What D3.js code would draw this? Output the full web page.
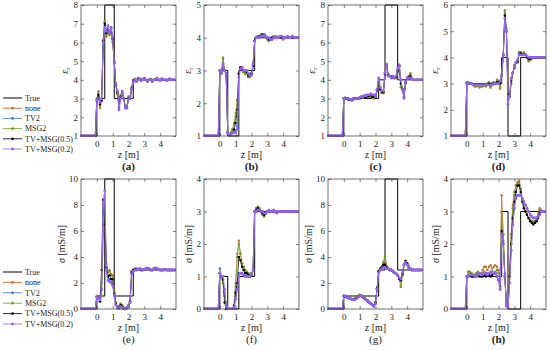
<html>
<head>
<script src="https://d3js.org/d3.v7.min.js"></script>
</head>
<body style="margin:0;background:#fff">
<script>

// depth grid (m)
const zGrid = [-1.0,-0.9,-0.8,-0.7,-0.6,-0.5,-0.4,-0.3,-0.2,-0.1,
  0.0,0.1,0.2,0.3,0.4,0.5,0.6,0.7,0.8,0.9,
  1.0,1.1,1.2,1.3,1.4,1.5,1.6,1.7,1.8,1.9,
  2.0,2.1,2.2,2.3,2.4,2.5,2.6,2.7,2.8,2.9,
  3.0,3.1,3.2,3.3,3.4,3.5,3.6,3.7,3.8,3.9,
  4.0,4.1,4.2,4.3,4.4,4.5,4.6,4.7,4.8,4.9];

const seriesNames = ["True", "none", "TV2", "MSG2", "TV+MSG(0.5)", "TV+MSG(0.2)"];
const lineColors = ["#000000", "#d9632a", "#4a7fe0", "#77ac30", "#111111", "#9b6cf0"];
const dotColors = ["none", "#b5762c", "#3f70d8", "#6b9c2a", "#000000", "#9461f2"];

const zTicks = [0, 1, 2, 3, 4];
const ticks8 = [1, 2, 3, 4, 5, 6, 7, 8];
const ticks5 = [1, 2, 3, 4, 5];
const ticks6 = [1, 2, 3, 4, 5, 6];
const ticks10 = [0, 2, 4, 6, 8, 10];
const ticks4 = [0, 1, 2, 3, 4];

// true profiles (step edges in z, layer values)
const edgesA = [-1, 0, 0.5, 1.1, 2.3, 5];
const trueA = [1, 3, 8, 3, 4];
const edgesB = [-1, 0, 0.5, 1.2, 2.2, 5];
const trueB = [1, 3, 1, 3, 4];
const edgesC = [-1, 0, 2.2, 2.6, 3.4, 5];
const trueC = [1, 3, 4, 8, 4];
const trueD = [1, 3, 4, 1, 4];
const trueE = [0, 1, 10, 1, 3];
const trueF = [0, 1, 0, 1, 3];
const trueG = [0, 1, 3, 10, 3];
const trueH = [0, 1, 3, 0, 3];

// (a) eps_r
const a_none = [1,1,1,1,1,1,1,1,1,1,
  2.9,3.4,2.5,3.0,5.5,7.1,6.3,6.6,6.4,6.7,
  6.0,5.0,3.8,3.2,2.6,3.2,3.3,3.0,2.6,2.6,
  3.1,3.1,3.6,4.0,4.05,3.9,4.1,4.05,3.95,4.05,
  4.1,4.0,3.9,4.0,4.05,3.9,4.0,4.05,4.1,4.0,
  3.95,4.05,4.0,4.0,3.95,4.0,4.05,4.0,4.0,4.0];
const a_tv2 = [1,1,1,1,1,1,1,1,1,1,
  3.0,3.1,2.8,2.9,5.8,6.9,6.6,6.8,6.5,6.8,
  6.2,4.9,3.7,3.4,2.5,3.1,3.4,3.0,2.5,2.5,
  3.0,3.0,3.5,3.9,4.0,3.95,4.0,4.05,4.0,4.0,
  4.05,4.0,3.95,4.0,4.0,3.95,4.0,4.0,4.05,4.0,
  4.0,4.05,4.0,4.0,4.0,4.0,4.05,4.0,4.0,4.0];
const a_msg2 = [1,1,1,1,1,1,1,1,1,1,
  2.9,3.3,2.6,3.0,5.7,7.15,6.4,6.7,6.4,6.7,
  6.1,5.0,3.8,3.3,2.6,3.2,3.3,3.0,2.6,2.6,
  3.1,3.1,3.6,4.0,4.05,3.9,4.05,4.05,3.95,4.05,
  4.1,4.0,3.9,4.0,4.05,3.9,4.0,4.05,4.1,4.0,
  3.95,4.05,4.0,4.0,3.95,4.0,4.05,4.0,4.0,4.0];
const a_tvmsg05 = [1,1,1,1,1,1,1,1,1,1,
  2.9,3.2,2.7,2.9,6.1,7.0,6.5,6.7,6.5,6.8,
  6.2,4.9,3.7,3.3,2.5,3.1,3.3,3.0,2.5,2.5,
  3.0,3.0,3.5,3.95,4.0,3.95,4.05,4.05,4.0,4.0,
  4.05,4.0,3.95,4.0,4.0,3.95,4.0,4.0,4.05,4.0,
  4.0,4.05,4.0,4.0,4.0,4.0,4.05,4.0,4.0,4.0];
const a_tvmsg02 = [1,1,1,1,1,1,1,1,1,1,
  2.9,3.0,2.8,3.0,6.0,6.8,6.6,6.9,6.5,6.8,
  6.3,4.9,3.7,3.4,2.4,3.0,3.4,3.0,2.5,2.5,
  3.0,3.0,3.5,3.9,4.0,3.95,4.0,4.05,4.0,4.0,
  4.05,4.0,3.95,4.0,4.0,3.95,4.0,4.0,4.05,4.0,
  4.0,4.05,4.0,4.0,4.0,4.0,4.05,4.0,4.0,4.0];

// (b) eps_r
const b_none = [1,1,1,1,1,1,1,1,1,1,
  3.0,2.9,3.4,3.0,2.85,1.15,1.05,1.1,1.2,1.35,
  1.6,2.1,2.9,3.1,3.05,2.95,2.9,2.9,2.8,2.8,
  2.9,3.1,3.9,4.0,4.05,4.05,4.1,4.1,4.1,4.0,
  3.95,3.9,3.95,4.0,4.05,4.05,4.0,4.0,4.05,4.0,
  3.95,4.0,4.0,4.05,4.0,4.0,4.0,4.0,4.0,4.0];
const b_tv2 = [1,1,1,1,1,1,1,1,1,1,
  3.0,3.0,3.1,3.0,2.9,1.1,1.05,1.05,1.1,1.1,
  1.15,1.3,2.8,3.05,3.1,3.0,3.0,3.0,2.9,2.9,
  2.9,3.2,3.9,4.0,4.0,4.0,4.05,4.05,4.1,4.05,
  4.0,4.0,3.95,3.95,4.0,4.0,4.0,4.0,4.05,4.05,
  4.0,4.0,4.0,4.0,4.0,4.0,4.05,4.0,4.0,4.0];
const b_msg2 = [1,1,1,1,1,1,1,1,1,1,
  3.0,2.9,3.35,3.0,2.85,1.15,1.05,1.1,1.2,1.4,
  1.7,2.1,2.9,3.1,3.05,2.95,2.9,2.9,2.8,2.8,
  2.9,3.1,3.9,4.0,4.05,4.05,4.1,4.1,4.1,4.0,
  3.95,3.9,3.95,4.0,4.05,4.05,4.0,4.0,4.05,4.0,
  3.95,4.0,4.0,4.05,4.0,4.0,4.0,4.0,4.0,4.0];
const b_tvmsg05 = [1,1,1,1,1,1,1,1,1,1,
  3.0,2.95,3.2,3.0,2.9,1.1,1.05,1.05,1.1,1.2,
  1.4,1.8,2.9,3.1,3.1,3.0,3.0,2.95,2.85,2.85,
  2.9,3.15,3.9,4.0,4.0,4.05,4.05,4.1,4.1,4.05,
  4.0,3.95,3.95,4.0,4.0,4.0,4.0,4.0,4.05,4.0,
  4.0,4.0,4.0,4.0,4.0,4.0,4.0,4.0,4.0,4.0];
const b_tvmsg02 = [1,1,1,1,1,1,1,1,1,1,
  3.0,2.95,3.2,3.0,2.9,1.1,1.05,1.05,1.1,1.1,
  1.1,1.2,2.8,3.05,3.1,3.0,3.0,3.0,2.9,2.85,
  2.85,3.2,3.9,4.0,4.0,4.0,4.05,4.05,4.1,4.05,
  4.0,4.0,3.95,3.95,4.0,4.0,4.0,4.0,4.05,4.05,
  4.0,4.0,4.0,4.0,4.0,4.0,4.05,4.0,4.0,4.0];

// (c) eps_r
const c_none = [1,1,1,1,1,1,1,1,1,1,
  3.0,3.05,3.0,2.95,2.95,2.9,2.95,3.0,3.0,3.0,
  3.0,3.05,3.05,3.1,3.1,3.1,3.1,3.1,3.05,3.05,
  3.1,3.4,3.8,3.5,3.3,3.3,4.2,4.85,4.3,4.2,
  4.2,4.1,4.1,4.1,4.4,4.7,3.6,3.5,3.2,3.8,
  4.1,4.2,4.35,4.1,4.0,4.0,4.0,4.0,4.0,4.0];
const c_tv2 = [1,1,1,1,1,1,1,1,1,1,
  3.0,3.0,3.0,3.0,2.95,2.95,3.0,3.0,3.0,3.0,
  3.05,3.1,3.1,3.15,3.15,3.2,3.2,3.25,3.2,3.2,
  3.1,3.5,4.0,3.6,3.4,3.4,4.4,4.75,4.2,4.2,
  4.1,4.2,4.1,4.2,4.6,4.75,4.0,3.5,3.1,3.9,
  4.1,4.1,4.1,4.05,4.0,4.0,4.0,4.0,4.0,4.0];
const c_msg2 = [1,1,1,1,1,1,1,1,1,1,
  3.0,3.05,3.0,2.95,2.95,2.9,2.95,3.0,3.0,3.0,
  3.0,3.05,3.05,3.1,3.1,3.1,3.1,3.1,3.05,3.0,
  3.1,3.4,3.8,3.5,3.3,3.3,4.2,4.8,4.3,4.2,
  4.2,4.1,4.1,4.1,4.4,4.7,3.6,3.5,3.2,3.8,
  4.1,4.2,4.3,4.1,4.0,4.0,4.0,4.0,4.0,4.0];
const c_tvmsg05 = [1,1,1,1,1,1,1,1,1,1,
  3.0,3.0,3.0,2.95,2.95,2.95,3.0,3.0,3.0,3.0,
  3.05,3.05,3.1,3.1,3.1,3.15,3.15,3.2,3.1,3.1,
  3.1,3.45,3.9,3.5,3.35,3.35,4.3,4.8,4.25,4.2,
  4.15,4.15,4.1,4.15,4.5,4.75,3.8,3.5,3.1,3.85,
  4.1,4.15,4.2,4.05,4.0,4.0,4.0,4.0,4.0,4.0];
const c_tvmsg02 = [1,1,1,1,1,1,1,1,1,1,
  3.0,3.0,3.0,3.0,2.95,2.95,3.0,3.0,3.0,3.0,
  3.05,3.1,3.1,3.15,3.15,3.2,3.2,3.25,3.2,3.2,
  3.1,3.5,4.1,3.6,3.4,3.4,4.4,4.8,4.2,4.2,
  4.1,4.2,4.1,4.2,4.6,4.8,4.0,3.5,3.0,3.9,
  4.1,4.1,4.1,4.05,4.0,4.0,4.0,4.0,4.0,4.0];

// (d) eps_r
const d_none = [1,1,1,1,1,1,1,1,1,1,
  3.05,3.05,3.0,3.0,2.95,2.9,2.9,2.95,2.85,2.9,
  2.9,2.95,2.9,3.0,3.05,2.85,3.0,3.05,3.0,3.15,
  3.1,2.8,3.3,4.1,5.8,5.0,3.0,2.5,3.0,3.4,
  3.7,3.8,3.8,4.2,4.2,4.1,4.2,4.1,4.0,3.85,
  3.9,3.95,4.0,4.0,4.0,4.0,4.0,4.0,4.0,4.0];
const d_tv2 = [1,1,1,1,1,1,1,1,1,1,
  3.0,3.0,3.0,3.0,2.95,2.95,2.95,2.95,2.95,2.95,
  2.95,2.95,2.95,2.95,2.95,2.95,2.95,3.0,3.0,3.0,
  3.0,3.1,3.3,4.1,5.5,5.1,2.4,2.5,3.2,3.4,
  3.6,3.8,3.9,4.1,4.1,4.1,4.1,4.1,4.05,4.0,
  4.0,4.0,4.0,4.0,4.0,4.0,4.0,4.0,4.0,4.0];
const d_msg2 = [1,1,1,1,1,1,1,1,1,1,
  3.05,3.05,3.0,3.0,2.95,2.9,2.9,2.95,2.9,2.9,
  2.9,2.95,2.9,3.0,3.05,2.9,3.0,3.05,3.0,3.1,
  3.1,2.85,3.3,4.1,5.7,5.0,2.9,2.5,3.0,3.4,
  3.7,3.8,3.8,4.2,4.2,4.1,4.15,4.1,4.0,3.9,
  3.9,3.95,4.0,4.0,4.0,4.0,4.0,4.0,4.0,4.0];
const d_tvmsg05 = [1,1,1,1,1,1,1,1,1,1,
  3.0,3.0,3.0,3.0,2.95,2.95,2.95,2.95,2.95,2.95,
  2.95,2.95,2.95,2.95,3.0,2.95,3.0,3.0,3.0,3.05,
  3.05,3.0,3.3,4.1,5.6,5.0,2.6,2.5,3.1,3.4,
  3.6,3.8,3.85,4.1,4.15,4.1,4.1,4.1,4.0,3.95,
  3.95,4.0,4.0,4.0,4.0,4.0,4.0,4.0,4.0,4.0];
const d_tvmsg02 = [1,1,1,1,1,1,1,1,1,1,
  3.0,3.0,3.0,3.0,2.95,2.95,2.95,2.95,2.95,2.95,
  2.95,2.95,2.95,2.95,2.95,2.95,2.95,3.0,3.0,3.0,
  3.0,3.1,3.3,4.1,5.5,5.0,2.2,2.5,3.2,3.4,
  3.6,3.8,3.9,4.1,4.1,4.1,4.1,4.1,4.05,4.0,
  4.0,4.0,4.0,4.0,4.0,4.0,4.0,4.0,4.0,4.0];

// (e) sigma
const e_none = [0,0,0,0,0,0,0,0,0,0,
  1.0,0.8,0.6,1.0,5.7,7.2,3.5,2.8,3.0,2.7,
  2.6,1.4,0.5,0.2,0.2,0.4,0.3,0.1,0.0,0.1,
  0.3,0.7,2.9,3.0,3.1,3.1,3.05,3.1,3.0,3.0,
  3.05,3.1,3.15,3.1,3.0,3.0,3.1,3.15,3.1,3.05,
  3.0,3.0,3.0,3.05,3.0,3.0,3.0,3.0,3.0,3.0];
const e_tv2 = [0,0,0,0,0,0,0,0,0,0,
  0.9,0.8,0.6,2.0,7.5,8.5,3.0,2.4,2.3,2.1,
  1.9,1.1,0.3,0.1,0.0,0.2,0.1,0.0,0.0,0.1,
  0.2,0.5,2.7,2.9,3.0,3.0,3.05,3.1,3.05,3.0,
  3.05,3.1,3.1,3.05,3.0,3.0,3.1,3.15,3.1,3.05,
  3.0,3.0,3.0,3.05,3.0,3.0,3.0,3.0,3.0,3.0];
const e_msg2 = [0,0,0,0,0,0,0,0,0,0,
  1.0,0.8,0.6,1.0,6.0,7.0,3.4,2.9,2.9,2.6,
  2.5,1.3,0.5,0.2,0.2,0.4,0.3,0.1,0.0,0.1,
  0.3,0.7,2.9,3.0,3.1,3.1,3.05,3.1,3.0,3.0,
  3.05,3.1,3.15,3.1,3.0,3.0,3.1,3.15,3.1,3.05,
  3.0,3.0,3.0,3.05,3.0,3.0,3.0,3.0,3.0,3.0];
const e_tvmsg05 = [0,0,0,0,0,0,0,0,0,0,
  0.9,0.8,0.6,3.0,8.4,6.5,3.2,2.5,2.6,2.3,
  2.3,1.2,0.4,0.1,0.1,0.3,0.2,0.0,0.0,0.1,
  0.2,0.6,2.8,3.0,3.05,3.05,3.05,3.1,3.0,3.0,
  3.05,3.1,3.1,3.05,3.0,3.0,3.1,3.15,3.1,3.05,
  3.0,3.0,3.0,3.05,3.0,3.0,3.0,3.0,3.0,3.0];
const e_tvmsg02 = [0,0,0,0,0,0,0,0,0,0,
  0.9,0.8,0.7,1.5,8.0,9.1,3.0,2.2,2.1,2.0,
  1.8,1.0,0.3,0.1,0.0,0.2,0.1,0.0,0.0,0.1,
  0.2,0.5,2.7,2.9,3.0,3.0,3.05,3.1,3.05,3.0,
  3.05,3.1,3.1,3.05,3.0,3.0,3.1,3.15,3.1,3.05,
  3.0,3.0,3.0,3.05,3.0,3.0,3.0,3.0,3.0,3.0];

// (f) sigma
const f_none = [0,0,0,0,0,0,0,0,0,0,
  1.1,1.0,0.8,0.4,0.2,0.0,0.0,0.0,0.0,0.1,
  0.8,1.7,2.1,1.7,1.4,1.3,1.2,1.15,1.1,1.05,
  1.1,1.2,3.0,3.1,3.15,3.1,3.0,2.9,2.85,2.95,
  3.0,3.05,3.0,3.0,3.05,3.0,2.95,3.0,3.0,3.0,
  3.0,3.0,3.0,3.0,3.0,3.0,3.0,3.0,3.0,3.0];
const f_tv2 = [0,0,0,0,0,0,0,0,0,0,
  1.25,1.0,0.9,0.5,0.1,0.0,0.0,0.0,0.0,0.05,
  0.4,0.8,1.1,1.1,1.1,1.05,1.0,1.0,1.0,1.0,
  1.05,1.2,3.0,3.0,3.05,3.05,3.0,3.0,2.95,2.95,
  3.0,3.0,3.0,3.0,3.0,3.0,3.0,3.0,3.0,3.0,
  3.0,3.0,3.0,3.0,3.0,3.0,3.0,3.0,3.0,3.0];
const f_msg2 = [0,0,0,0,0,0,0,0,0,0,
  1.1,1.0,0.8,0.4,0.2,0.0,0.0,0.0,0.0,0.1,
  0.7,1.6,2.0,1.7,1.4,1.3,1.2,1.15,1.1,1.05,
  1.1,1.2,3.0,3.1,3.15,3.1,3.0,2.9,2.85,2.95,
  3.0,3.05,3.0,3.0,3.05,3.0,2.95,3.0,3.0,3.0,
  3.0,3.0,3.0,3.0,3.0,3.0,3.0,3.0,3.0,3.0];
const f_tvmsg05 = [0,0,0,0,0,0,0,0,0,0,
  1.1,1.0,0.9,0.2,0.0,0.0,0.0,0.0,0.0,0.1,
  0.5,0.8,1.6,1.5,1.3,1.2,1.1,1.1,1.05,1.0,
  1.05,1.2,3.0,3.05,3.1,3.05,3.0,2.95,2.9,2.95,
  3.0,3.0,3.0,3.0,3.0,3.0,3.0,3.0,3.0,3.0,
  3.0,3.0,3.0,3.0,3.0,3.0,3.0,3.0,3.0,3.0];
const f_tvmsg02 = [0,0,0,0,0,0,0,0,0,0,
  1.1,1.0,1.0,0.6,0.1,0.0,0.0,0.0,0.0,0.05,
  0.3,0.6,1.0,1.1,1.1,1.05,1.0,1.0,1.0,1.0,
  1.05,1.2,3.0,3.0,3.05,3.05,3.0,3.0,2.95,2.95,
  3.0,3.0,3.0,3.0,3.0,3.0,3.0,3.0,3.0,3.0,
  3.0,3.0,3.0,3.0,3.0,3.0,3.0,3.0,3.0,3.0];

// (g) sigma
const g_none = [0,0,0,0,0,0,0,0,0,0,
  1.0,0.95,0.9,0.85,0.8,0.75,0.75,0.8,0.9,1.0,
  1.1,1.05,0.95,0.85,0.75,0.65,0.55,0.45,0.35,0.3,
  0.5,1.6,2.9,3.1,3.3,3.6,4.1,3.3,3.1,3.0,
  3.0,2.9,2.8,2.7,2.6,2.3,1.8,2.6,3.3,3.7,
  3.5,3.3,3.1,3.0,3.0,3.0,3.0,3.0,3.0,3.0];
const g_tv2 = [0,0,0,0,0,0,0,0,0,0,
  1.0,1.0,0.9,0.85,0.8,0.75,0.7,0.7,0.8,0.9,
  1.0,1.0,0.9,0.8,0.7,0.6,0.5,0.4,0.3,0.2,
  0.4,1.5,2.8,3.0,3.1,3.2,3.2,3.1,3.1,3.0,
  3.0,2.9,2.8,2.7,2.6,2.4,2.2,2.8,3.4,3.6,
  3.4,3.2,3.1,3.0,3.0,3.0,3.0,3.0,3.0,3.0];
const g_msg2 = [0,0,0,0,0,0,0,0,0,0,
  1.0,0.95,0.9,0.85,0.8,0.75,0.75,0.8,0.9,1.0,
  1.05,1.05,0.95,0.85,0.75,0.65,0.55,0.45,0.35,0.3,
  0.5,1.6,2.9,3.1,3.3,3.6,4.0,3.3,3.1,3.0,
  3.0,2.9,2.8,2.7,2.6,2.3,1.7,2.6,3.3,3.7,
  3.5,3.3,3.1,3.0,3.0,3.0,3.0,3.0,3.0,3.0];
const g_tvmsg05 = [0,0,0,0,0,0,0,0,0,0,
  1.0,0.95,0.9,0.85,0.8,0.75,0.7,0.75,0.85,0.95,
  1.0,1.0,0.9,0.8,0.7,0.6,0.5,0.4,0.3,0.25,
  0.5,1.6,2.9,3.1,3.2,3.4,3.4,3.2,3.1,3.0,
  3.0,2.9,2.8,2.7,2.6,2.3,2.2,2.7,3.4,3.7,
  3.5,3.2,3.1,3.0,3.0,3.0,3.0,3.0,3.0,3.0];
const g_tvmsg02 = [0,0,0,0,0,0,0,0,0,0,
  1.0,1.0,0.9,0.85,0.8,0.75,0.7,0.7,0.8,0.9,
  1.0,1.0,0.9,0.8,0.7,0.6,0.5,0.4,0.3,0.2,
  0.4,1.5,2.8,3.0,3.1,3.2,3.2,3.1,3.1,3.0,
  3.0,2.9,2.8,2.7,2.6,2.4,2.3,2.8,3.4,3.6,
  3.4,3.2,3.1,3.0,3.0,3.0,3.0,3.0,3.0,3.0];

// (h) sigma
const h_none = [0,0,0,0,0,0,0,0,0,0,
  1.0,1.15,1.15,1.1,1.05,1.05,1.1,1.15,1.1,1.1,
  1.2,1.3,1.3,1.2,1.3,1.35,1.25,1.3,1.35,1.3,
  1.2,0.9,3.5,2.3,1.0,0.2,0.1,1.2,2.3,3.2,
  3.6,3.8,3.9,3.95,3.7,3.4,3.2,3.0,2.9,2.8,
  2.75,2.7,2.65,2.65,2.7,2.9,3.1,3.05,3.0,3.0];
const h_tv2 = [0,0,0,0,0,0,0,0,0,0,
  1.0,1.05,1.05,1.05,1.0,1.0,1.05,1.1,1.05,1.05,
  1.05,1.1,1.1,1.05,1.1,1.1,1.15,1.1,1.1,1.0,
  0.9,0.6,2.3,2.1,1.0,0.1,0.05,0.8,1.8,2.6,
  3.1,3.4,3.5,3.5,3.5,3.4,3.3,3.2,3.1,3.0,
  2.9,2.85,2.8,2.8,2.8,2.85,2.9,3.0,3.0,3.0];
const h_msg2 = [0,0,0,0,0,0,0,0,0,0,
  1.0,1.15,1.1,1.1,1.05,1.05,1.1,1.1,1.1,1.05,
  1.1,1.15,1.1,1.1,1.1,1.15,1.15,1.1,1.15,1.2,
  1.1,0.9,3.0,2.3,1.1,0.2,0.1,1.1,2.2,3.1,
  3.5,3.8,3.85,3.9,3.7,3.4,3.2,3.0,2.9,2.8,
  2.75,2.7,2.7,2.7,2.75,2.9,3.05,3.0,3.0,3.0];
const h_tvmsg05 = [0,0,0,0,0,0,0,0,0,0,
  1.0,1.0,1.05,1.0,1.0,1.0,1.0,1.05,1.0,1.0,
  1.0,1.05,1.0,1.05,1.05,1.0,1.05,1.1,1.1,1.0,
  0.9,0.7,2.4,2.0,1.0,0.1,0.05,1.0,2.0,2.8,
  3.3,3.6,3.8,3.8,3.6,3.3,3.1,3.0,2.9,2.8,
  2.7,2.65,2.6,2.65,2.7,2.8,2.95,3.0,3.0,3.0];
const h_tvmsg02 = [0,0,0,0,0,0,0,0,0,0,
  1.0,1.0,1.05,1.05,1.05,1.0,1.0,1.05,1.1,1.05,
  1.05,1.1,1.1,1.05,1.1,1.1,1.15,1.1,1.1,1.0,
  0.9,0.6,2.3,2.0,1.0,0.1,0.05,0.8,1.8,2.6,
  3.1,3.4,3.5,3.5,3.5,3.4,3.3,3.2,3.1,3.0,
  2.9,2.85,2.8,2.8,2.8,2.85,2.9,3.0,3.0,3.0];

const panels = [
  {tag: "(a)", col: 0, row: 0, yDom: [1, 8], yTicks: ticks8, edges: edgesA, trueV: trueA, rec: [a_none, a_tv2, a_msg2, a_tvmsg05, a_tvmsg02], bold: true},
  {tag: "(b)", col: 1, row: 0, yDom: [1, 5], yTicks: ticks5, edges: edgesB, trueV: trueB, rec: [b_none, b_tv2, b_msg2, b_tvmsg05, b_tvmsg02], bold: true},
  {tag: "(c)", col: 2, row: 0, yDom: [1, 8], yTicks: ticks8, edges: edgesC, trueV: trueC, rec: [c_none, c_tv2, c_msg2, c_tvmsg05, c_tvmsg02], bold: true},
  {tag: "(d)", col: 3, row: 0, yDom: [1, 6], yTicks: ticks6, edges: edgesC, trueV: trueD, rec: [d_none, d_tv2, d_msg2, d_tvmsg05, d_tvmsg02], bold: true},
  {tag: "(e)", col: 0, row: 1, yDom: [0, 10], yTicks: ticks10, edges: edgesA, trueV: trueE, rec: [e_none, e_tv2, e_msg2, e_tvmsg05, e_tvmsg02], bold: false},
  {tag: "(f)", col: 1, row: 1, yDom: [0, 4], yTicks: ticks4, edges: edgesB, trueV: trueF, rec: [f_none, f_tv2, f_msg2, f_tvmsg05, f_tvmsg02], bold: false},
  {tag: "(g)", col: 2, row: 1, yDom: [0, 10], yTicks: ticks10, edges: edgesC, trueV: trueG, rec: [g_none, g_tv2, g_msg2, g_tvmsg05, g_tvmsg02], bold: false},
  {tag: "(h)", col: 3, row: 1, yDom: [0, 4], yTicks: ticks4, edges: edgesC, trueV: trueH, rec: [h_none, h_tv2, h_msg2, h_tvmsg05, h_tvmsg02], bold: true}
];

const W = 550, H = 350;
const lefts = [81, 204, 328, 451];
const tops = [5, 179];
const heights = [131, 130];
const plotW = 95;
const font = "'Liberation Serif', 'DejaVu Serif', serif";
const axisColor = "#333";

const svg = d3.select("body").append("svg")
  .attr("width", W)
  .attr("height", H);

panels.forEach(function(p, pi) {
  let h = heights[p.row];
  let g = svg.append("g").attr("transform", "translate(" + lefts[p.col] + "," + tops[p.row] + ")");

  let x = d3.scaleLinear().domain([-1, 5]).range([0, plotW]);
  let y = d3.scaleLinear().domain(p.yDom).range([h, 0]);
  let fmt = d3.format("d");

  // axes, inward ticks on all four sides
  let bottom = g.append("g").attr("transform", "translate(0," + h + ")")
    .call(d3.axisBottom(x).tickValues(zTicks).tickFormat(fmt).tickSizeInner(-3).tickSizeOuter(0).tickPadding(5));
  let left = g.append("g")
    .call(d3.axisLeft(y).tickValues(p.yTicks).tickFormat(fmt).tickSizeInner(-3).tickSizeOuter(0).tickPadding(3));
  let top = g.append("g")
    .call(d3.axisTop(x).tickValues(zTicks).tickSizeInner(-3).tickSizeOuter(0).tickFormat(""));
  let right = g.append("g").attr("transform", "translate(" + plotW + ",0)")
    .call(d3.axisRight(y).tickValues(p.yTicks).tickSizeInner(-3).tickSizeOuter(0).tickFormat(""));
  [bottom, left, top, right].forEach(function(a) {
    a.attr("font-family", null);
    a.select(".domain").remove();
    a.selectAll("line").attr("stroke", axisColor).attr("stroke-width", 0.6);
    a.selectAll("text").style("font-family", font).style("font-size", "9px").attr("fill", "#222");
  });

  g.append("defs").append("clipPath").attr("id", "clip" + pi)
    .append("rect").attr("x", -1).attr("y", -1).attr("width", plotW + 2).attr("height", h + 2);
  let plot = g.append("g").attr("clip-path", "url(#clip" + pi + ")");

  // true profile
  let truePts = p.edges.map((z, i) => [z, p.trueV[Math.min(i, p.trueV.length - 1)]]);
  plot.append("path")
    .attr("d", d3.line().x(d => x(d[0])).y(d => y(d[1])).curve(d3.curveStepAfter)(truePts))
    .attr("fill", "none")
    .attr("stroke", lineColors[0])
    .attr("stroke-width", 1);

  // reconstructions
  let line = d3.line().x(d => x(d[0])).y(d => y(d[1]));
  p.rec.forEach(function(vals, si) {
    let pts = zGrid.map((z, i) => [z, vals[i]]);
    plot.append("path")
      .attr("d", line(pts))
      .attr("fill", "none")
      .attr("stroke", lineColors[si + 1])
      .attr("stroke-width", si == 4 ? 1.1 : 0.8);
    plot.selectAll(null)
      .data(pts)
      .enter()
      .append("circle")
      .attr("cx", d => x(d[0]))
      .attr("cy", d => y(d[1]))
      .attr("r", si == 4 ? 1.4 : 1.2)
      .attr("fill", dotColors[si + 1]);
  });

  g.append("rect")
    .attr("width", plotW)
    .attr("height", h)
    .attr("fill", "none")
    .attr("stroke", axisColor)
    .attr("stroke-width", 0.7);

  // axis labels
  let cx = plotW / 2;
  g.append("text")
    .attr("x", cx)
    .attr("y", h + 22)
    .attr("text-anchor", "middle")
    .style("font-family", font)
    .style("font-size", "10px")
    .attr("fill", "#222")
    .text("z [m]");
  g.append("text")
    .attr("x", cx)
    .attr("y", h + 34)
    .attr("text-anchor", "middle")
    .style("font-family", font)
    .style("font-size", "11px")
    .style("font-weight", p.bold ? "bold" : "normal")
    .attr("fill", "#222")
    .text(p.tag);

  let yl;
  if (p.row == 0) {
    yl = g.append("text")
      .attr("transform", "translate(-13," + (h / 2) + ") rotate(-90)")
      .attr("text-anchor", "middle")
      .style("font-family", font)
      .style("font-size", "10px")
      .attr("fill", "#222");
    yl.append("tspan").style("font-style", "italic").text("ε");
    yl.append("tspan").style("font-size", "7px").attr("dy", 2).text("r");
  } else {
    yl = g.append("text")
      .attr("transform", "translate(" + (p.yDom[1] == 10 ? -16 : -12) + "," + (h / 2) + ") rotate(-90)")
      .attr("text-anchor", "middle")
      .style("font-family", font)
      .style("font-size", "10px")
      .attr("fill", "#222");
    yl.append("tspan").style("font-style", "italic").text("σ");
    yl.append("tspan").text(" [mS/m]");
  }
});

// legends (one per row)
const legendTop = [98, 272];
const legendStep = [10.2, 10.4];
[0, 1].forEach(function(r) {
  let lg = svg.append("g");
  seriesNames.forEach(function(name, i) {
    let yy = legendTop[r] + i * legendStep[r];
    lg.append("line")
      .attr("x1", 3).attr("x2", 22)
      .attr("y1", yy).attr("y2", yy)
      .attr("stroke", lineColors[i])
      .attr("stroke-width", i == 0 ? 1 : 0.9);
    if (i > 0) {
      lg.append("circle")
        .attr("cx", 12.5).attr("cy", yy)
        .attr("r", 1.4)
        .attr("fill", dotColors[i]);
    }
    lg.append("text")
      .attr("x", 25)
      .attr("y", yy)
      .attr("dy", "0.35em")
      .style("font-family", font)
      .style("font-size", "8px")
      .attr("fill", "#222")
      .text(name);
  });
});

</script>
</body>
</html>
